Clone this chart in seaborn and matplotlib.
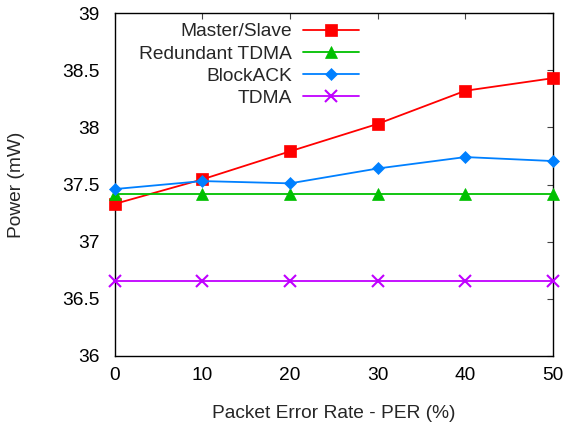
import matplotlib
matplotlib.use("Agg")
import matplotlib.pyplot as plt
import seaborn as sns
import pandas as pd

per = [0, 10, 20, 30, 40, 50]
master_slave = [37.33, 37.545, 37.79, 38.03, 38.32, 38.43]
redundant_tdma = [37.42, 37.42, 37.42, 37.42, 37.42, 37.42]
block_ack = [37.46, 37.53, 37.51, 37.64, 37.74, 37.705]
tdma = [36.66, 36.66, 36.66, 36.66, 36.66, 36.66]

series_names = ["Master/Slave", "Redundant TDMA", "BlockACK", "TDMA"]
series_values = [master_slave, redundant_tdma, block_ack, tdma]
colors = ["#ff0000", "#00c000", "#0080ff", "#c000ff"]
markers = ["s", "^", "D", "x"]
msizes = [8, 9, 6.5, 8]

rows = []
for name, vals in zip(series_names, series_values):
    for x, y in zip(per, vals):
        rows.append({"PER": x, "Power": y, "Scheme": name})
df = pd.DataFrame(rows)

sns.set_style("white")
plt.rcParams["font.family"] = ["Liberation Sans", "DejaVu Sans"]
FS = 13.8

fig = plt.figure(figsize=(5.64, 4.28), dpi=100)
ax = fig.add_axes([114.7 / 564, 1 - 356 / 428, (553 - 114.7) / 564, 343 / 428])

for name, c, m, ms in zip(series_names, colors, markers, msizes):
    sub = df[df["Scheme"] == name]
    sns.lineplot(data=sub, x="PER", y="Power", ax=ax, color=c, marker=m,
                 markersize=ms, markeredgecolor=c, markeredgewidth=1.5 if m == "x" else 0.5,
                 linewidth=1.3, label=name, clip_on=False, zorder=3)

ax.set_xlim(0, 50)
ax.set_ylim(36, 39)
ax.set_xticks(per)
ax.set_yticks([36, 36.5, 37, 37.5, 38, 38.5, 39])
ax.set_yticklabels(["36", "36.5", "37", "37.5", "38", "38.5", "39"])
ax.tick_params(direction="in", length=4, width=0.8, color="#444444",
               top=True, right=True, labelsize=FS, labelcolor="black")
ax.tick_params(axis="y", pad=11)
ax.tick_params(axis="x", pad=8)
for s in ax.spines.values():
    s.set_color("black")
    s.set_linewidth(1.0)
    s.set_visible(True)

ax.set_xlabel("Packet Error Rate - PER (%)", fontsize=FS)
ax.set_ylabel("Power (mW)", fontsize=FS)
ax.xaxis.set_label_coords(0.5, -0.143)
ax.yaxis.set_label_coords(-0.205, 0.5)

leg = ax.legend(loc="upper right", bbox_to_anchor=(359 / 564, 1 - 23 / 428),
                bbox_transform=fig.transFigure, frameon=False, markerfirst=False,
                fontsize=FS, handlelength=2.9, handletextpad=0.6, labelspacing=0.25,
                borderpad=0, borderaxespad=0)

fig.savefig("out.png", dpi=100)
